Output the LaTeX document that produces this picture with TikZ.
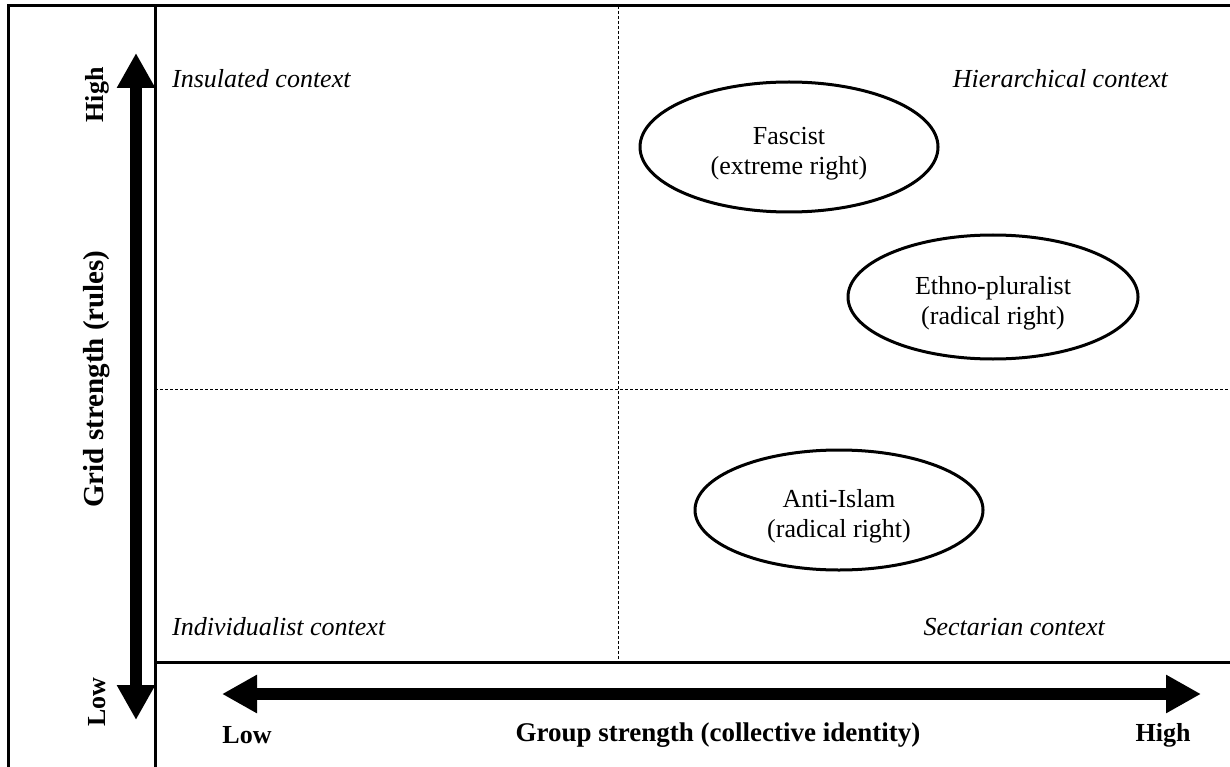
\documentclass[tikz,border=0pt]{standalone}
\usepackage{fontspec}
\setmainfont{Liberation Serif}
\usetikzlibrary{arrows.meta,shapes.geometric}
\begin{document}
\begin{tikzpicture}[x=1pt,y=-1pt,
  frame/.style={line width=3pt},
  grid/.style={line width=0.9pt,dash pattern=on 3pt off 2pt},
  axis/.style={line width=12pt,-{Triangle[length=35pt,width=36pt]}},
  ctx/.style={font=\fontsize{26}{30}\selectfont\itshape,inner sep=0pt},
  lab/.style={font=\fontsize{26}{30}\selectfont\bfseries,inner sep=0pt},
  party/.style={ellipse,draw,line width=3pt,align=center,font=\fontsize{26}{30}\selectfont,inner sep=0pt}
]
\useasboundingbox (0,0) rectangle (1230,767);
% frame
\draw[frame] (8,767) -- (8,6) -- (1230,6);
\draw[frame] (155,6) -- (155,767);
\draw[frame] (155,662) -- (1230,662);
% quadrant dividers
\draw[grid] (618,6) -- (618,662);
\draw[grid] (155,389) -- (1230,389);
% axes
\coordinate (vmid) at (136,386);
\coordinate (vtop) at (136,53);
\coordinate (vbot) at (136,720);
\draw[axis] (vmid) -- (vtop);
\draw[axis] (vmid) -- (vbot);
\coordinate (hmid) at (711,694);
\coordinate (hleft) at (222,694);
\coordinate (hright) at (1201,694);
\draw[axis] (hmid) -- (hleft);
\draw[axis] (hmid) -- (hright);
% axis labels
\node[lab,rotate=90] (yhigh) at (97,95) {High};
\node[lab,rotate=90] (ylow) at (97,702) {Low};
\node[lab,rotate=90,font=\fontsize{29}{33}\selectfont\bfseries] (ytitle) at (97,379) {Grid strength (rules)};
\node[lab] (xlow) at (247,735) {Low};
\node[lab,font=\fontsize{27}{31}\selectfont\bfseries] (xtitle) at (718,735) {Group strength (collective identity)};
\node[lab] (xhigh) at (1163,735) {High};
% context labels
\node[ctx,anchor=base west] (ins) at (172,88) {Insulated context};
\node[ctx,anchor=base east] (hier) at (1168,88) {Hierarchical context};
\node[ctx,anchor=base west] (ind) at (172,635) {Individualist context};
\node[ctx,anchor=base east] (sect) at (1105,635) {Sectarian context};
% parties
\node[party,minimum width=298pt,minimum height=130pt] (fasc) at (789,147) {\rule{0pt}{30pt}Fascist\\(extreme right)};
\node[party,minimum width=290pt,minimum height=124pt] (ethno) at (993,297) {\rule{0pt}{30pt}Ethno-pluralist\\(radical right)};
\node[party,minimum width=288pt,minimum height=120pt] (anti) at (839,510) {\rule{0pt}{30pt}Anti-Islam\\(radical right)};
\end{tikzpicture}
\end{document}
